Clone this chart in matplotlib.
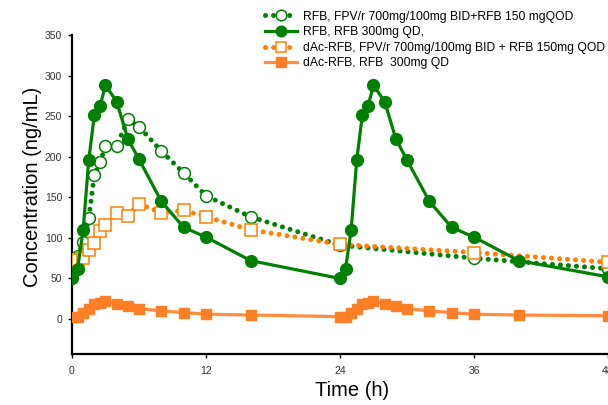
import matplotlib
matplotlib.use("Agg")
import matplotlib.pyplot as plt

plt.rcParams['font.family'] = ['Liberation Sans', 'DejaVu Sans']

GREEN = '#008000'
ORANGE = '#FF8000'
ORANGE_FILL = '#FF7F27'
ORANGE_LINE = '#FF8C40'

# RFB with FPV/r 700/100 mg BID + RFB 150 mg QOD (open circles, dotted)
t_fpv_rfb = [0.5, 1, 1.5, 2, 2.5, 3, 4, 5, 6, 8, 10, 12, 16, 24, 36, 48]
c_fpv_rfb = [78, 95, 124, 177, 193, 213, 213, 246, 237, 207, 180, 152, 126, 91, 75, 62]

# RFB 300 mg QD (filled circles, solid)
t_rfb = [0, 0.5, 1, 1.5, 2, 2.5, 3, 4, 5, 6, 8, 10, 12, 16,
         24, 24.5, 25, 25.5, 26, 26.5, 27, 28, 29, 30, 32, 34, 36, 40, 48]
c_rfb = [50, 62, 110, 196, 251, 262, 288, 268, 222, 197, 145, 113, 101, 72,
         50, 62, 110, 196, 251, 262, 288, 268, 222, 196, 145, 113, 101, 72, 52]

# dAc-RFB with FPV/r (open squares, dotted)
t_dac_fpv = [0, 0.5, 1, 1.5, 2, 2.5, 3, 4, 5, 6, 8, 10, 12, 16, 24, 36, 48]
c_dac_fpv = [73, 73, 75, 85, 94, 109, 116, 131, 127, 142, 131, 134, 126, 110, 92, 82, 70]

# dAc-RFB, RFB 300 mg QD (filled squares, solid)
t_dac = [0, 0.5, 1, 1.5, 2, 2.5, 3, 4, 5, 6, 8, 10, 12, 16,
         24, 24.5, 25, 25.5, 26, 26.5, 27, 28, 29, 30, 32, 34, 36, 40, 48]
c_dac = [3, 3, 7, 13, 18, 20, 22, 19, 16, 13, 10, 8, 6, 5,
         3, 3, 7, 13, 18, 20, 22, 19, 16, 13, 10, 8, 6, 5, 4]

labels = ['RFB, FPV/r 700mg/100mg BID+RFB 150 mgQOD',
          'RFB, RFB 300mg QD,',
          'dAc-RFB, FPV/r 700mg/100mg BID + RFB 150mg QOD',
          'dAc-RFB, RFB  300mg QD']
x_ticks = [0, 12, 24, 36, 48]
y_ticks = [0, 50, 100, 150, 200, 250, 300, 350]

fig = plt.figure(figsize=(6.08, 4.05), dpi=100)
ax = fig.add_axes([0.1184, 0.126, 0.8816, 0.7876])

dots = (0, (0.01, 1.6))
h1, = ax.plot(t_fpv_rfb, c_fpv_rfb, color=GREEN, lw=3.6, linestyle=dots,
              dash_capstyle='round', marker='o', ms=8.5, mfc='white',
              mec=GREEN, mew=1.1, zorder=2)
h3, = ax.plot(t_dac_fpv, c_dac_fpv, color=ORANGE, lw=3.6, linestyle=dots,
              dash_capstyle='round', marker='s', ms=8, mfc='white',
              mec=ORANGE, mew=1.1, zorder=3)
h2, = ax.plot(t_rfb, c_rfb, color=GREEN, lw=2.3, marker='o', ms=8.5,
              mfc=GREEN, mec=GREEN, zorder=4)
h4, = ax.plot(t_dac, c_dac, color=ORANGE_LINE, lw=2.3, marker='s', ms=7.5,
              mfc=ORANGE_FILL, mec=ORANGE_FILL, zorder=5)

ax.set_xlim(0, 48)
ax.set_ylim(-43, 350)
ax.set_xticks(x_ticks)
ax.set_yticks(y_ticks)

for s in ['top', 'right']:
    ax.spines[s].set_visible(False)
for s in ['left', 'bottom']:
    ax.spines[s].set_linewidth(1.6)

ax.tick_params(axis='both', direction='out', length=3, width=1,
               labelsize=7.5, labelcolor='#333333')
ax.tick_params(axis='x', pad=6)
ax.tick_params(axis='y', pad=4)

ax.set_xlabel('Time (h)', fontsize=14.5)
ax.set_ylabel('Concentration (ng/mL)', fontsize=14.5)
ax.xaxis.set_label_coords(0.522, -0.085)
ax.yaxis.set_label_coords(-0.056, 0.523)

fig.legend([h1, h2, h3, h4], labels, loc='upper left',
           bbox_to_anchor=(0.436, 0.974), frameon=False, fontsize=8.7,
           numpoints=1, handlelength=2.65, handletextpad=0.45,
           labelspacing=0.3, borderpad=0, borderaxespad=0, markerscale=0.9)

fig.savefig('out.png', dpi=100)
